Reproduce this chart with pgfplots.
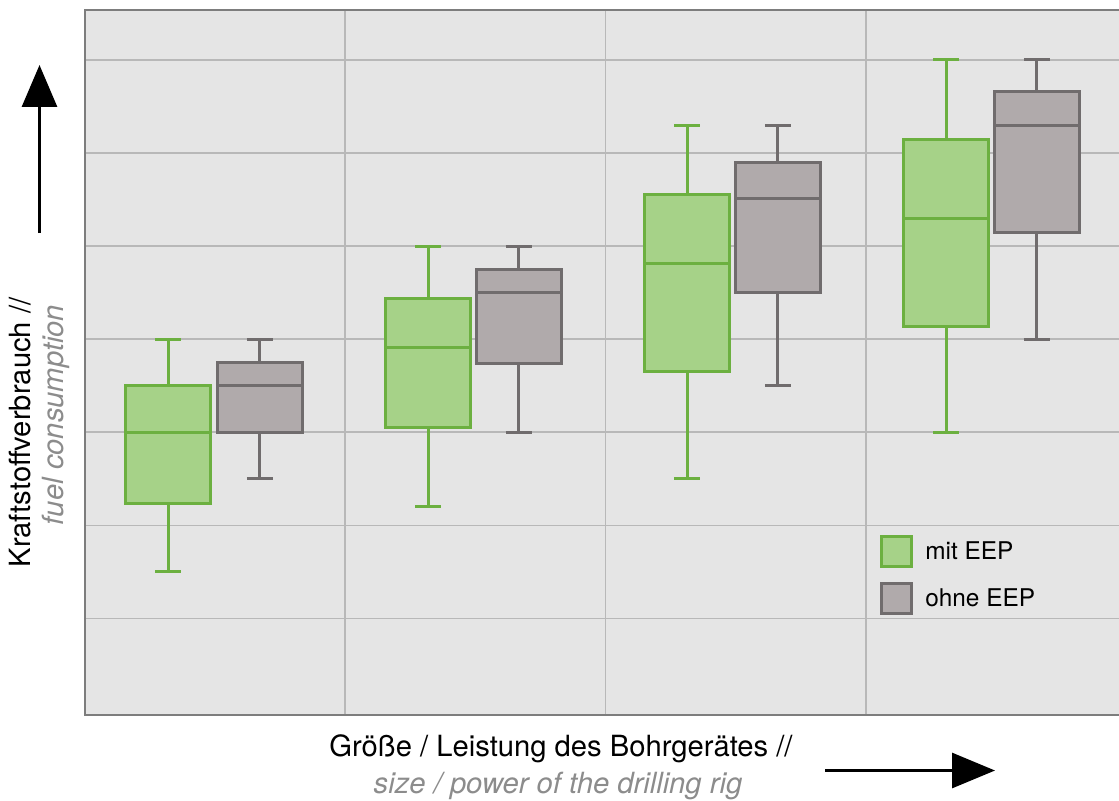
\documentclass[border=0pt]{standalone}
\usepackage{fontspec}
\setmainfont{TeX Gyre Heros}
\usepackage{pgfplots}
\pgfplotsset{compat=1.18}
\usepgfplotslibrary{statistics}
\usetikzlibrary{arrows.meta}

\definecolor{greenf}{RGB}{166,210,136}
\definecolor{greend}{RGB}{108,176,64}
\definecolor{greyf}{RGB}{176,170,171}
\definecolor{greyd}{RGB}{112,108,109}
\definecolor{bgc}{RGB}{229,229,229}
\definecolor{gridc}{RGB}{184,184,184}
\definecolor{framec}{RGB}{125,125,125}
\definecolor{subc}{RGB}{140,140,140}

\begin{document}
\begin{tikzpicture}
\begin{axis}[
    at={(42.5pt,42.5pt)}, anchor=south west,
    scale only axis,
    width=520.6pt, height=352.5pt,
    xmin=0, xmax=4, ymin=-0.037, ymax=7.537,
    xtick={1,2,3}, ytick={1,...,7},
    xticklabels={}, yticklabels={},
    major tick length=0pt,
    grid=major,
    major grid style={draw=gridc, line width=0.85pt},
    axis background/.style={fill=bgc},
    axis line style={draw=framec, line width=1.4pt},
    boxplot/draw direction=y,
    boxplot/box extend=0.3265,
    boxplot/whisker extend=0.1,
    boxplot/every box/.style={line width=1.5pt},
    boxplot/every whisker/.style={line width=1.5pt},
    boxplot/every median/.style={line width=1.5pt},
    legend image code/.code={\draw[#1, line width=1.4pt] (0pt,-7.5pt) rectangle (15pt,7.5pt); \path (19.5pt,0pt);},
    legend cell align=left,
    legend style={at={(0.7636,0.2553)}, anchor=north west,
        draw=none, fill=none, inner sep=0pt,
        row sep=7pt,
        font=\fontsize{12.2}{14}\selectfont},
]
% mit EEP
\addplot[forget plot, draw=greend, fill=greenf,
    boxplot prepared={draw position=0.319, lower whisker=1.5, lower quartile=2.24,
        median=3.0, upper quartile=3.5, upper whisker=4.0}] coordinates {};
\addplot[forget plot, draw=greend, fill=greenf,
    boxplot prepared={draw position=1.318, lower whisker=2.2, lower quartile=3.05,
        median=3.91, upper quartile=4.44, upper whisker=5.0}] coordinates {};
\addplot[forget plot, draw=greend, fill=greenf,
    boxplot prepared={draw position=2.313, lower whisker=2.5, lower quartile=3.65,
        median=4.81, upper quartile=5.55, upper whisker=6.3}] coordinates {};
\addplot[forget plot, draw=greend, fill=greenf,
    boxplot prepared={draw position=3.308, lower whisker=3.0, lower quartile=4.14,
        median=5.3, upper quartile=6.15, upper whisker=7.0}] coordinates {};
% ohne EEP
\addplot[forget plot, draw=greyd, fill=greyf,
    boxplot prepared={draw position=0.672, lower whisker=2.5, lower quartile=3.0,
        median=3.5, upper quartile=3.75, upper whisker=4.0}] coordinates {};
\addplot[forget plot, draw=greyd, fill=greyf,
    boxplot prepared={draw position=1.667, lower whisker=3.0, lower quartile=3.74,
        median=4.5, upper quartile=4.75, upper whisker=5.0}] coordinates {};
\addplot[forget plot, draw=greyd, fill=greyf,
    boxplot prepared={draw position=2.662, lower whisker=3.5, lower quartile=4.5,
        median=5.51, upper quartile=5.9, upper whisker=6.3}] coordinates {};
\addplot[forget plot, draw=greyd, fill=greyf,
    boxplot prepared={draw position=3.657, lower whisker=4.0, lower quartile=5.15,
        median=6.3, upper quartile=6.66, upper whisker=7.0}] coordinates {};

\addlegendimage{draw=greend, fill=greenf}
\addlegendentry{mit EEP}
\addlegendimage{draw=greyd, fill=greyf}
\addlegendentry{ohne EEP}
\end{axis}

% axis titles
\node[rotate=90, anchor=base, font=\fontsize{14.6}{17}\selectfont] at (15pt,183.75pt)
    {Kraftstoffverbrauch //};
\node[rotate=90, anchor=base, text=subc, font=\fontsize{14.6}{17}\selectfont\itshape] at (31.5pt,192.5pt)
    {fuel consumption};
\node[anchor=base, font=\fontsize{14.6}{17}\selectfont] at (280.5pt,22pt)
    {Größe / Leistung des Bohrgerätes //};
\node[anchor=base, text=subc, font=\fontsize{14.6}{17}\selectfont\itshape] at (279pt,3.5pt)
    {size / power of the drilling rig};

% arrows
\draw[line width=1.5pt, -{Triangle[length=21pt, width=17.5pt]}] (19.75pt,283.5pt) -- (19.75pt,367.5pt);
\draw[line width=1.5pt, -{Triangle[length=21.5pt, width=17.5pt]}] (412.5pt,14.75pt) -- (497.5pt,14.75pt);

\pgfresetboundingbox
\useasboundingbox (0pt,0pt) rectangle (559.5pt,400pt);
\end{tikzpicture}
\end{document}
